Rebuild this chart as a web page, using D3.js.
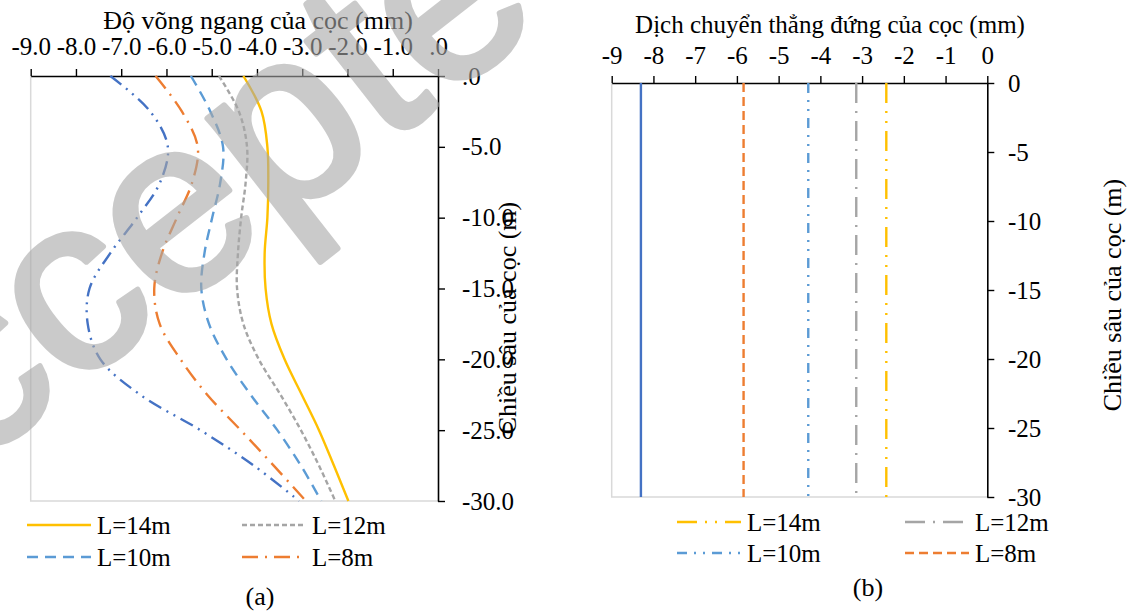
<!DOCTYPE html>
<html>
<head>
<meta charset="utf-8">
<script src="https://cdn.jsdelivr.net/npm/d3@7"></script>
<style>
  body { margin: 0; background: #fff; }
  svg { display: block; }
</style>
</head>
<body>
<svg id="chart" width="1133" height="611" style="font-family: 'Liberation Serif', 'Times New Roman', serif"></svg>
<script>
// depth along the pile (m)
const depths = [0, -2.5, -5, -7.5, -10, -12.5, -15, -17.5, -20, -22.5, -25, -27.5, -30];

// (a) horizontal deflection (mm) at each depth
const defl14 = [-4.30, -3.90, -3.77, -3.75, -3.77, -3.83, -3.81, -3.68, -3.39, -3.01, -2.63, -2.30, -1.98];
const defl12 = [-4.84, -4.40, -4.22, -4.25, -4.35, -4.42, -4.44, -4.30, -3.96, -3.48, -3.03, -2.63, -2.27];
const defl10 = [-5.46, -5.03, -4.75, -4.81, -4.99, -5.16, -5.23, -5.06, -4.67, -4.14, -3.55, -3.03, -2.58];
const defl8  = [-6.24, -5.66, -5.31, -5.43, -5.77, -6.10, -6.27, -6.15, -5.69, -5.10, -4.36, -3.63, -2.92];
const defl6  = [-7.24, -6.36, -5.97, -6.14, -6.65, -7.24, -7.70, -7.74, -7.46, -6.58, -5.25, -4.07, -3.07];

// (b) vertical settlement (mm), constant along depth
const settleLabels = ["L=14m", "L=12m", "L=10m", "L=8m", "L=6m"];
const settleValues = [-2.42, -3.14, -4.29, -5.84, -8.30];

const xTicksA = [-9, -8, -7, -6, -5, -4, -3, -2, -1, 0];
const yTicksA = [0, -5, -10, -15, -20, -25, -30];
const xTicksB = [-9, -8, -7, -6, -5, -4, -3, -2, -1, 0];
const yTicksB = [0, -5, -10, -15, -20, -25, -30];

const svg = d3.select("#chart");
const FS = 25;
const SERIF = "'Liberation Serif', 'Times New Roman', serif";

// Excel-like formatting with plain hyphen: ".0", "-5.0"
const fmtA = v => v === 0 ? ".0" : v.toFixed(1);
const fmtB = v => String(v);

function drawPanel(cfg) {
    const g = svg.append("g");
    const x = d3.scaleLinear().domain([-9, 0]).range([cfg.left, cfg.right]);
    const y = d3.scaleLinear().domain([0, -30]).range([cfg.top, cfg.bottom]);

    // plot area border (left + bottom light grey)
    g.append("path")
        .attr("d", `M${cfg.left},${cfg.top}V${cfg.bottom}H${cfg.right}`)
        .attr("fill", "none").attr("stroke", "#d9d9d9").attr("stroke-width", 1.5);

    // top axis
    const xAxis = g.append("g").attr("transform", `translate(0,${cfg.top})`)
        .call(d3.axisTop(x).tickValues(cfg.xTicks).tickSize(7).tickSizeOuter(0).tickFormat(cfg.fmtX));
    xAxis.select(".domain").attr("stroke", "#000").attr("stroke-width", 1.6);
    xAxis.selectAll(".tick line").attr("stroke", "#000").attr("stroke-width", 1.4);
    xAxis.selectAll(".tick text")
        .style("font-family", SERIF).style("font-size", FS + "px").attr("fill", "#000")
        .attr("y", cfg.xLabelBase - cfg.top).attr("dy", 0);

    // right axis
    const yAxis = g.append("g").attr("transform", `translate(${cfg.right},0)`)
        .call(d3.axisRight(y).tickValues(cfg.yTicks).tickSize(7).tickSizeOuter(0).tickFormat(cfg.fmtY));
    yAxis.select(".domain").attr("stroke", "#000").attr("stroke-width", 1.6);
    yAxis.selectAll(".tick line").attr("stroke", "#000").attr("stroke-width", 1.4);
    yAxis.selectAll(".tick text")
        .style("font-family", SERIF).style("font-size", FS + "px").attr("fill", "#000")
        .attr("x", cfg.yLabelX - cfg.right).attr("text-anchor", "start");

    // titles
    g.append("text").attr("x", cfg.titleX).attr("y", 29 + cfg.titleShift)
        .attr("text-anchor", "middle").style("font-size", cfg.titleFS + "px").text(cfg.title);
    g.append("text")
        .attr("transform", `translate(${cfg.yTitleX},${cfg.yTitleY}) rotate(-90)`)
        .attr("text-anchor", "middle").style("font-size", (FS + 1) + "px")
        .text("Chiều sâu của cọc (m)");

    return { g, x, y };
}

// ---------- panel (a) ----------
const A = drawPanel({
    left: 30.7, right: 438, top: 76, bottom: 501,
    xTicks: xTicksA, yTicks: yTicksA, fmtX: fmtA, fmtY: fmtA,
    xLabelBase: 55, yLabelX: 462,
    title: "Độ võng ngang của cọc (mm)", titleX: 258, titleShift: 0, titleFS: FS + 1,
    yTitleX: 516, yTitleY: 318
});

const seriesA = [
    { name: "L=6m",  vals: defl6,  color: "#4472C4", dash: "14,6,2,6,2,6" },
    { name: "L=8m",  vals: defl8,  color: "#ED7D31", dash: "16,7,2,7" },
    { name: "L=10m", vals: defl10, color: "#5B9BD5", dash: "11,7" },
    { name: "L=12m", vals: defl12, color: "#A5A5A5", dash: "5,3" },
    { name: "L=14m", vals: defl14, color: "#FFC000", dash: null }
];

const lineA = d3.line()
    .x(d => A.x(d[0]))
    .y(d => A.y(d[1]))
    .curve(d3.curveCatmullRom.alpha(0.5));

A.g.append("g").selectAll("path")
    .data(seriesA)
    .join("path")
    .attr("d", s => lineA(s.vals.map((v, i) => [v, depths[i]])))
    .attr("fill", "none")
    .attr("stroke", s => s.color)
    .attr("stroke-width", 2.4)
    .attr("stroke-dasharray", s => s.dash);

// legend (a)
const legA = [
    { s: seriesA[4], x: 27, y: 525 },
    { s: seriesA[3], x: 242, y: 525 },
    { s: seriesA[2], x: 27, y: 557 },
    { s: seriesA[1], x: 242, y: 557 }
];
legA.forEach(l => {
    A.g.append("line").attr("x1", l.x).attr("x2", l.x + 64).attr("y1", l.y).attr("y2", l.y)
        .attr("stroke", l.s.color).attr("stroke-width", 2.4).attr("stroke-dasharray", l.s.dash);
    A.g.append("text").attr("x", l.x + 70).attr("y", l.y).attr("dy", "0.35em")
        .style("font-size", FS + "px").text(l.s.name);
});
A.g.append("text").attr("x", 260).attr("y", 605).attr("text-anchor", "middle")
    .style("font-size", (FS + 1) + "px").text("(a)");

// ---------- panel (b) ----------
const B = drawPanel({
    left: 611.7, right: 987.3, top: 83, bottom: 497,
    xTicks: xTicksB, yTicks: yTicksB, fmtX: fmtB, fmtY: fmtB,
    xLabelBase: 64, yLabelX: 1008,
    title: "Dịch chuyển thẳng đứng của cọc (mm)", titleX: 830, titleShift: 4, titleFS: FS,
    yTitleX: 1121, yTitleY: 295
});

const styleB = {
    "L=14m": { color: "#FFC000", dash: "20,8,2,8,2,8" },
    "L=12m": { color: "#A5A5A5", dash: "20,8,2,8" },
    "L=10m": { color: "#5B9BD5", dash: "10,7,2,7,2,7" },
    "L=8m":  { color: "#ED7D31", dash: "9,5" },
    "L=6m":  { color: "#4472C4", dash: null }
};

B.g.append("g").selectAll("line")
    .data(settleLabels.map((n, i) => ({ name: n, v: settleValues[i] })))
    .join("line")
    .attr("x1", d => B.x(d.v)).attr("x2", d => B.x(d.v))
    .attr("y1", B.y(0)).attr("y2", B.y(-30))
    .attr("stroke", d => styleB[d.name].color)
    .attr("stroke-width", 2.4)
    .attr("stroke-dasharray", d => styleB[d.name].dash);

const legB = [
    { n: "L=14m", x: 677, y: 522 },
    { n: "L=12m", x: 905, y: 522 },
    { n: "L=10m", x: 677, y: 553 },
    { n: "L=8m",  x: 905, y: 553 }
];
legB.forEach(l => {
    B.g.append("line").attr("x1", l.x).attr("x2", l.x + 64).attr("y1", l.y).attr("y2", l.y)
        .attr("stroke", styleB[l.n].color).attr("stroke-width", 2.4)
        .attr("stroke-dasharray", styleB[l.n].dash);
    B.g.append("text").attr("x", l.x + 70).attr("y", l.y).attr("dy", "0.35em")
        .style("font-size", FS + "px").text(l.n);
});
B.g.append("text").attr("x", 868).attr("y", 596).attr("text-anchor", "middle")
    .style("font-size", (FS + 1) + "px").text("(b)");

// watermark over the left panel
svg.append("g").attr("opacity", 0.6)
  .append("text")
    .attr("transform", "translate(-159,571) rotate(-38)")
    .style("font-family", "'Liberation Sans', Arial, sans-serif")
    .style("font-size", "248px")
    .style("fill", "#a8a8a8")
    .style("stroke", "#a8a8a8")
    .style("stroke-width", 6)
    .style("stroke-linejoin", "round")
    .text("Accepted");
</script>
</body>
</html>
